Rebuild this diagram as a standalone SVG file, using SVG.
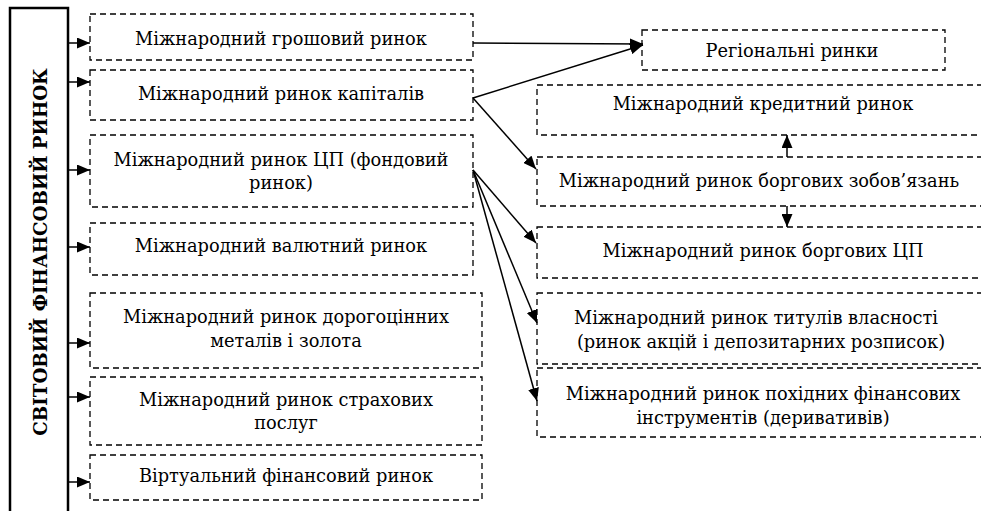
<svg xmlns="http://www.w3.org/2000/svg" width="981" height="511" viewBox="0 0 981 511">
<style>
  .box{fill:none;stroke:#000;stroke-width:1.3;stroke-dasharray:6 4}
  .t{font-family:"DejaVu Serif",serif;font-size:17.8px;fill:#000;text-anchor:middle}
  .title{font-family:"DejaVu Serif",serif;font-size:18.3px;font-weight:bold;fill:#000;text-anchor:middle}
  .ln{stroke:#000;stroke-width:1.5;fill:none}
</style>
<defs>
  <marker id="ah" markerUnits="userSpaceOnUse" markerWidth="13" markerHeight="11" refX="13" refY="5.5" orient="auto">
    <path d="M0,0 L13,5.5 L0,11 z" fill="#000"/>
  </marker>
</defs>
<rect width="981" height="511" fill="#fff"/>

<g id="root">
  <rect x="10" y="8" width="58" height="520" fill="none" stroke="#000" stroke-width="2.5"/>
  <text class="title" transform="translate(47,252) rotate(-90)">СВІТОВИЙ ФІНАНСОВИЙ РИНОК</text>
</g>

<g id="n1"><rect class="box" x="90" y="14" width="383" height="46"/><text class="t" x="281" y="45">Міжнародний грошовий ринок</text></g>
<g id="n2"><rect class="box" x="90" y="70" width="383" height="50"/><text class="t" x="281" y="100">Міжнародний ринок капіталів</text></g>
<g id="n3"><rect class="box" x="90" y="135" width="383" height="72"/><text class="t" x="281" y="166">Міжнародний ринок ЦП (фондовий</text><text class="t" x="281" y="189">ринок)</text></g>
<g id="n4"><rect class="box" x="90" y="223" width="383" height="52"/><text class="t" x="281" y="252">Міжнародний валютний ринок</text></g>
<g id="n5"><rect class="box" x="90" y="293" width="392" height="75"/><text class="t" x="286" y="323">Міжнародний ринок дорогоцінних</text><text class="t" x="286" y="347">металів і золота</text></g>
<g id="n6"><rect class="box" x="90" y="377" width="392" height="68"/><text class="t" x="286" y="406">Міжнародний ринок страхових</text><text class="t" x="286" y="429">послуг</text></g>
<g id="n7"><rect class="box" x="90" y="455" width="392" height="45"/><text class="t" x="286" y="482">Віртуальний фінансовий ринок</text></g>

<g id="r1"><rect class="box" x="642" y="30" width="303" height="40"/><text class="t" x="792" y="57">Регіональні ринки</text></g>
<g id="r2"><rect class="box" x="537" y="85" width="455" height="50"/><text class="t" x="763" y="110">Міжнародний кредитний ринок</text></g>
<g id="r3"><rect class="box" x="537" y="157" width="455" height="49"/><text class="t" x="759" y="187">Міжнародний ринок боргових зобов’язань</text></g>
<g id="r4"><rect class="box" x="537" y="227" width="455" height="51"/><text class="t" x="763" y="257">Міжнародний ринок боргових ЦП</text></g>
<g id="r5"><rect class="box" x="537" y="293" width="455" height="71"/><text class="t" x="756" y="324">Міжнародний ринок титулів власності</text><text class="t" x="761" y="348">(ринок акцій і депозитарних розписок)</text></g>
<g id="r6"><rect class="box" x="537" y="368" width="455" height="69"/><text class="t" x="763" y="400">Міжнародний ринок похідних фінансових</text><text class="t" x="763" y="424">інструментів (деривативів)</text></g>

<g id="connectors">
  <line class="ln" x1="68" y1="43" x2="90" y2="43" marker-end="url(#ah)"/>
  <line class="ln" x1="68" y1="82" x2="90" y2="82" marker-end="url(#ah)"/>
  <line class="ln" x1="68" y1="170" x2="90" y2="170" marker-end="url(#ah)"/>
  <line class="ln" x1="68" y1="247" x2="90" y2="247" marker-end="url(#ah)"/>
  <line class="ln" x1="68" y1="343" x2="90" y2="343" marker-end="url(#ah)"/>
  <line class="ln" x1="68" y1="397" x2="90" y2="397" marker-end="url(#ah)"/>
  <line class="ln" x1="68" y1="482" x2="90" y2="482" marker-end="url(#ah)"/>

  <line class="ln" x1="473" y1="43" x2="643" y2="44" marker-end="url(#ah)"/>
  <line class="ln" x1="473" y1="98" x2="643" y2="45" marker-end="url(#ah)"/>
  <line class="ln" x1="473" y1="98" x2="536" y2="169" marker-end="url(#ah)"/>
  <line class="ln" x1="473" y1="170" x2="536" y2="243" marker-end="url(#ah)"/>
  <line class="ln" x1="473" y1="170" x2="537" y2="323" marker-end="url(#ah)"/>
  <line class="ln" x1="473" y1="170" x2="537" y2="401" marker-end="url(#ah)"/>

  <line class="ln" x1="787" y1="157" x2="787" y2="135" marker-end="url(#ah)"/>
  <line class="ln" x1="787" y1="206" x2="787" y2="227" marker-end="url(#ah)"/>
</g>
</svg>
